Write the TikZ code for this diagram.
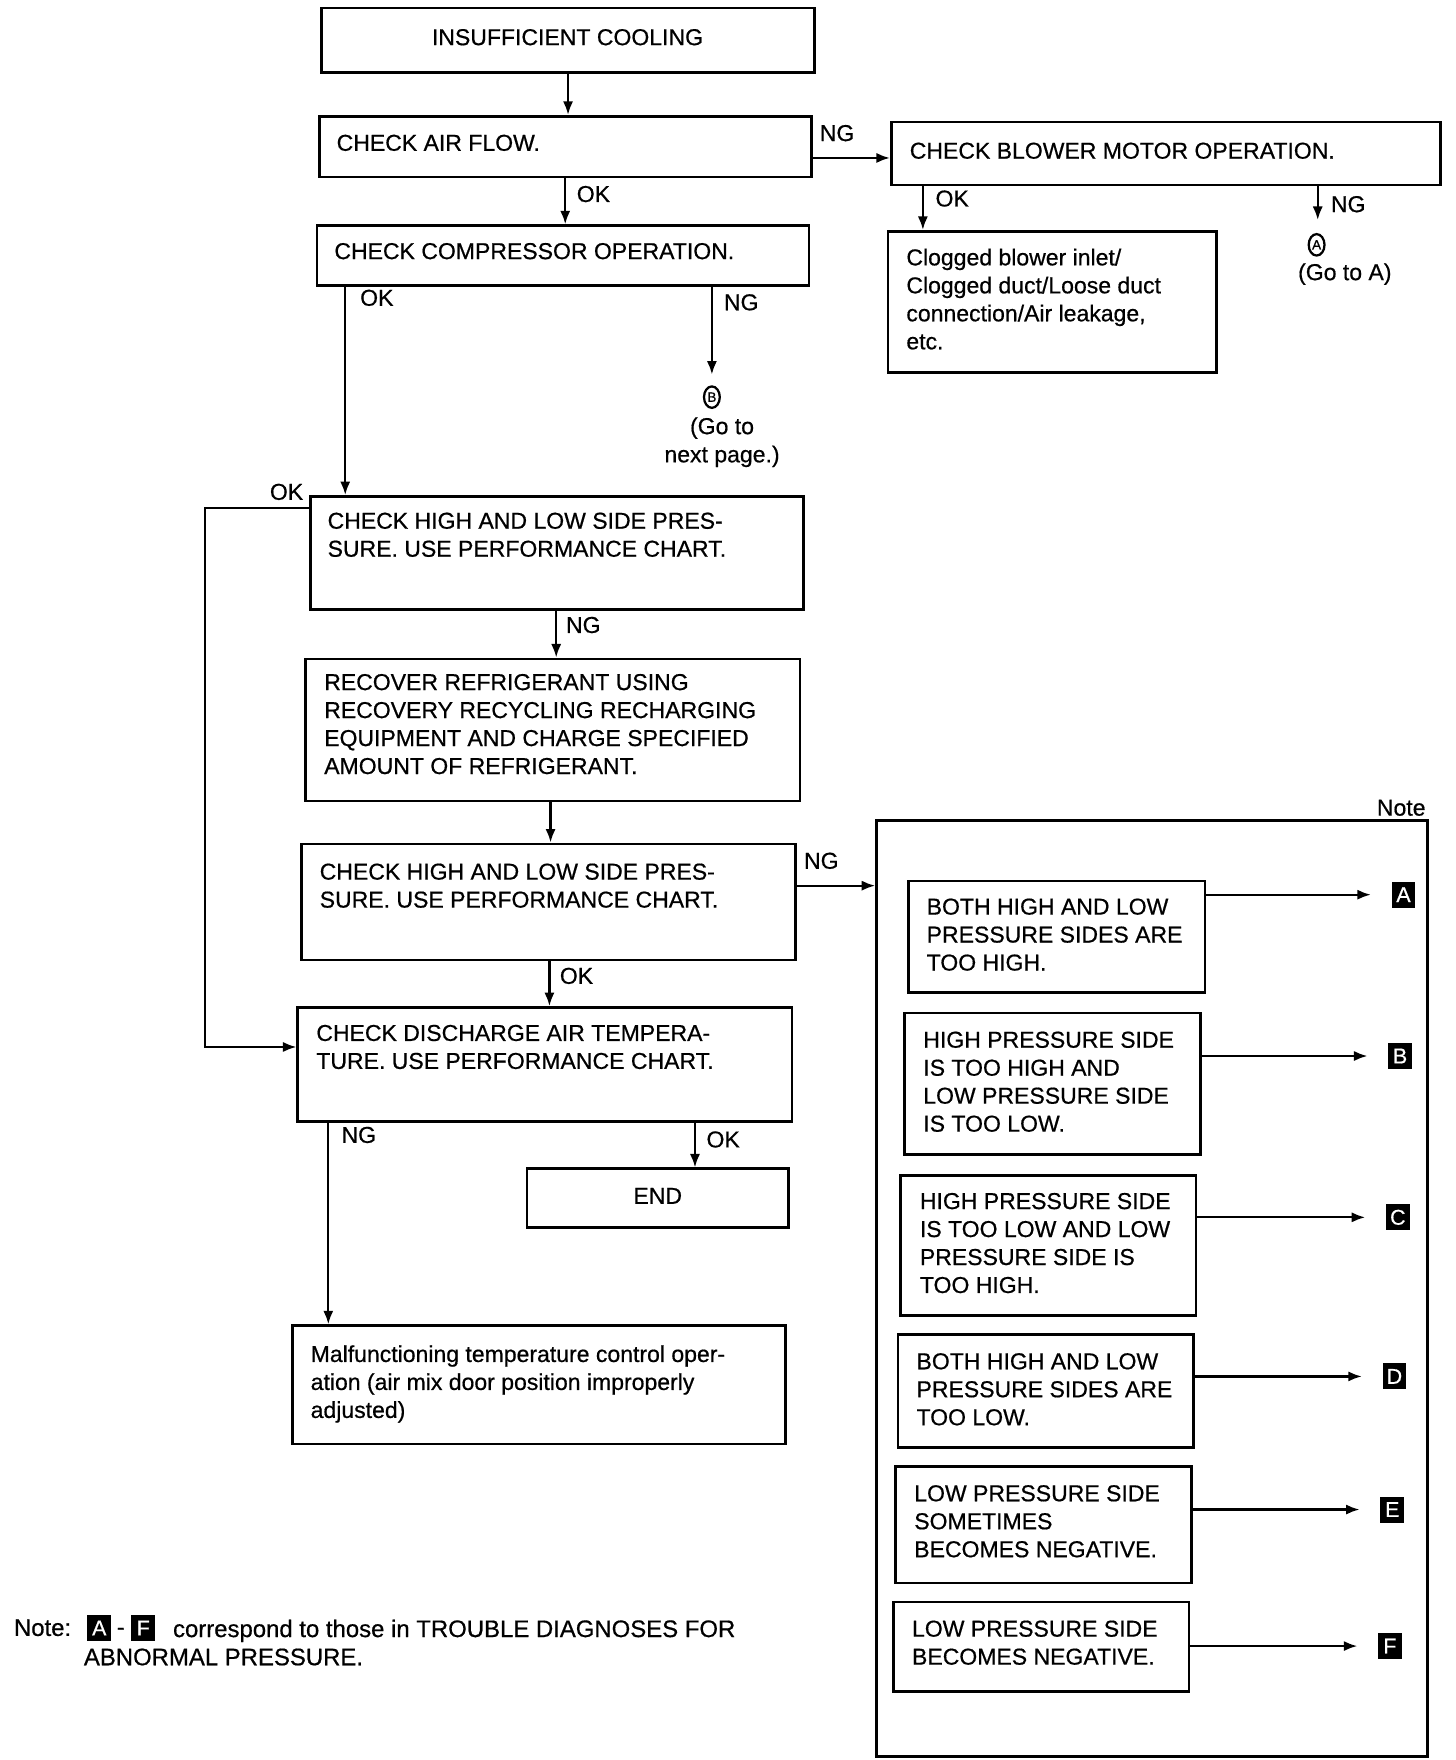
\documentclass[tikz,border=0pt]{standalone}
\usepackage{fontspec}
\setmainfont{Liberation Sans}[FakeBold=0.6]
\usetikzlibrary{fit,arrows.meta,shapes.geometric,calc}
\begin{document}
\begin{tikzpicture}[x=0.5pt,y=-0.5pt,
  box/.style={draw,line width=1.2pt,inner sep=0pt,rectangle,fit={#1}},
  txt/.style={anchor=north west,inner sep=0pt,align=left,font=\fontsize{10.2}{12.4}\selectfont},
  lbl/.style={inner sep=0pt,font=\fontsize{10.2}{12.5}\selectfont},
  arr/.style={line width=1pt,-{Latex[length=6pt,width=4.5pt]}},
  tag/.style={fill=black,text=white,minimum width=10.5pt,minimum height=11.5pt,inner sep=0pt,font=\fontsize{9.5}{9.5}\selectfont},
  circ/.style={draw,ellipse,line width=1pt,minimum width=7pt,minimum height=9.5pt,inner sep=0pt,font=\fontsize{6}{6}\selectfont}
]
\useasboundingbox (0,0) rectangle (1290,1560);

% main boxes
\node[box={(285,7) (722,64)}] (top) {};
\node[box={(283,103) (719,157)}] (airflow) {};
\node[box={(790,108) (1277,164)}] (blower) {};
\node[box={(281,200) (717,253)}] (comp) {};
\node[box={(787,205) (1078,330)}] (clog) {};
\node[box={(275,440) (712,540)}] (chk1) {};
\node[box={(271,584) (709,710)}] (recover) {};
\node[box={(267,748) (705,851)}] (chk2) {};
\node[box={(264,893) (702,994)}] (disch) {};
\node[box={(467,1036) (699,1088)}] (endb) {};
\node[box={(259,1175) (696,1280)}] (malf) {};
\node[box={(777,727) (1265,1557)}] (panel) {};

% note boxes
\node[box={(805,781) (1068,880)}] (nbA) {};
\node[box={(802,898) (1064,1023)}] (nbB) {};
\node[box={(798,1042) (1060,1166)}] (nbC) {};
\node[box={(796,1183) (1058,1283)}] (nbD) {};
\node[box={(794,1300) (1056,1403)}] (nbE) {};
\node[box={(792,1420) (1054,1499)}] (nbF) {};

% texts
\node[lbl] (ttop) at (503,33) {INSUFFICIENT COOLING};
\node[txt] (tairflow) at (298,119) {CHECK AIR FLOW.};
\node[txt] (tblower) at (806,126) {CHECK BLOWER MOTOR OPERATION.};
\node[txt] (tcomp) at (296,215) {CHECK COMPRESSOR OPERATION.};
\node[txt] (tclog) at (803,220) {Clogged blower inlet/\\Clogged duct/Loose duct\\connection/Air leakage,\\etc.};
\node[txt] (tchk1) at (290,454) {CHECK HIGH AND LOW SIDE PRES-\\SURE. USE PERFORMANCE CHART.};
\node[txt] (trec) at (287,597) {RECOVER REFRIGERANT USING\\RECOVERY RECYCLING RECHARGING\\EQUIPMENT AND CHARGE SPECIFIED\\AMOUNT OF REFRIGERANT.};
\node[txt] (tchk2) at (283,765) {CHECK HIGH AND LOW SIDE PRES-\\SURE. USE PERFORMANCE CHART.};
\node[txt] (tdisch) at (280,908) {CHECK DISCHARGE AIR TEMPERA-\\TURE. USE PERFORMANCE CHART.};
\node[lbl] (tend) at (583,1060) {END};
\node[txt] (tmalf) at (275,1192) {Malfunctioning temperature control oper-\\ation (air mix door position improperly\\adjusted)};

\node[txt] (tnA) at (821,796) {BOTH HIGH AND LOW\\PRESSURE SIDES ARE\\TOO HIGH.};
\node[txt] (tnB) at (818,914) {HIGH PRESSURE SIDE\\IS TOO HIGH AND\\LOW PRESSURE SIDE\\IS TOO LOW.};
\node[txt] (tnC) at (815,1057) {HIGH PRESSURE SIDE\\IS TOO LOW AND LOW\\PRESSURE SIDE IS\\TOO HIGH.};
\node[txt] (tnD) at (812,1199) {BOTH HIGH AND LOW\\PRESSURE SIDES ARE\\TOO LOW.};
\node[txt] (tnE) at (810,1316) {LOW PRESSURE SIDE\\SOMETIMES\\BECOMES NEGATIVE.};
\node[txt] (tnF) at (808,1436) {LOW PRESSURE SIDE\\BECOMES NEGATIVE.};

% tags
\node[tag] (tagA) at (1244,793) {A};
\node[tag] (tagB) at (1241,936) {B};
\node[tag] (tagC) at (1239,1079) {C};
\node[tag] (tagD) at (1236,1220) {D};
\node[tag] (tagE) at (1234,1338) {E};
\node[tag] (tagF) at (1232,1459) {F};
\node[lbl] (notelbl) at (1242,716) {Note};

% connector labels
\node[lbl] (l1) at (742,118) {NG};
\node[lbl] (l2) at (526,172) {OK};
\node[lbl] (l3) at (334,264) {OK};
\node[lbl] (l4) at (657,268) {NG};
\node[lbl] (l5) at (844,176) {OK};
\node[lbl] (l6) at (1195,181) {NG};
\node[lbl] (l7) at (254,436) {OK};
\node[lbl] (l8) at (517,554) {NG};
\node[lbl] (l9) at (728,763) {NG};
\node[lbl] (l10) at (511,865) {OK};
\node[lbl] (l11) at (318,1006) {NG};
\node[lbl] (l12) at (641,1010) {OK};

% circled references
\node[circ] (cB) at (631,352) {B};
\node[lbl,align=center] (gonext) at (640,392) {(Go to\\next page.)};
\node[circ] (cA) at (1167,217) {A};
\node[lbl] (goA) at (1192,243) {(Go to A)};

% helper coordinates
\coordinate (y140) at (0,140);
\coordinate (xok) at (306,0);
\coordinate (nB) at (631,332);
\coordinate (xbo) at (818,0);
\coordinate (nAarr) at (1168,195);
\coordinate (x493) at (493,0);
\coordinate (x488) at (488,0);
\coordinate (y785) at (0,785);
\coordinate (x487) at (487,0);
\coordinate (x291) at (291,0);
\coordinate (x616) at (616,0);
\coordinate (lp1) at (182,450);
\coordinate (lp2) at (182,928);

% connectors
\draw[arr] (top.south) -- (top.south |- airflow.north);
\draw[arr] (airflow.east |- y140) -- (blower.west |- y140);
\draw[arr] (airflow.south) -- (airflow.south |- comp.north);
\draw[arr] (comp.south -| xok) -- (chk1.north -| xok);
\draw[arr] (comp.south -| nB) -- (nB);
\draw[arr] (blower.south -| xbo) -- (clog.north -| xbo);
\draw[arr] (blower.south -| nAarr) -- (nAarr);
\draw[arr] (chk1.west |- lp1) -- (lp1) -- (lp2) -- (disch.west |- lp2);
\draw[arr] (chk1.south -| x493) -- (recover.north -| x493);
\draw[arr] (recover.south -| x488) -- (chk2.north -| x488);
\draw[arr] (chk2.east |- y785) -- (panel.west |- y785);
\draw[arr] (chk2.south -| x487) -- (disch.north -| x487);
\draw[arr] (disch.south -| x291) -- (malf.north -| x291);
\draw[arr] (disch.south -| x616) -- (endb.north -| x616);

\draw[arr,shorten >=9pt] (nbA.east |- tagA) -- (tagA);
\draw[arr,shorten >=9pt] (nbB.east |- tagB) -- (tagB);
\draw[arr,shorten >=9pt] (nbC.east |- tagC) -- (tagC);
\draw[arr,shorten >=9pt] (nbD.east |- tagD) -- (tagD);
\draw[arr,shorten >=9pt] (nbE.east |- tagE) -- (tagE);
\draw[arr,shorten >=9pt] (nbF.east |- tagF) -- (tagF);

% bottom note
\node[lbl,anchor=base west,font=\fontsize{10.6}{12.5}\selectfont] (notew) at (12,1450) {Note:};
\node[tag] (ntA) at (88,1443) {A};
\node[lbl] (ndash) at (107,1446) {-};
\node[tag] (ntF) at (127,1443) {F};
\node[lbl,anchor=base west,font=\fontsize{10.6}{12.5}\selectfont] (ncorr) at (153,1451) {correspond to those in TROUBLE DIAGNOSES FOR};
\node[lbl,anchor=base west,font=\fontsize{10.6}{12.5}\selectfont] (nabn) at (74,1476) {ABNORMAL PRESSURE.};
\end{tikzpicture}
\end{document}
